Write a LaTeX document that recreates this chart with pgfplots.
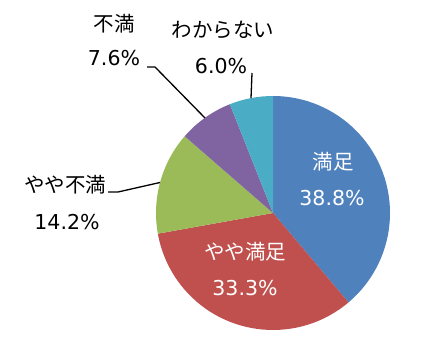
\documentclass[border=0pt]{standalone}
\usepackage{pgfplots}
\pgfplotsset{compat=1.18}
\usepackage{fontspec}
\setmainfont{Noto Sans CJK JP}
\newfontfamily\numfont{DejaVu Sans}
\definecolor{cA}{HTML}{4F81BD}
\definecolor{cB}{HTML}{C0504D}
\definecolor{cC}{HTML}{9BBB59}
\definecolor{cD}{HTML}{8064A2}
\definecolor{cE}{HTML}{4BACC6}
% data (percent)
\def\vA{38.8}\def\vB{33.3}\def\vC{14.2}\def\vD{7.6}\def\vE{6.0}
\pgfmathsetmacro\tot{\vA+\vB+\vC+\vD+\vE}
\pgfmathsetmacro\aZ{90}
\pgfmathsetmacro\aA{\aZ-360*\vA/\tot}
\pgfmathsetmacro\aB{\aA-360*\vB/\tot}
\pgfmathsetmacro\aC{\aB-360*\vC/\tot}
\pgfmathsetmacro\aD{\aC-360*\vD/\tot}
\pgfmathsetmacro\aE{\aD-360*\vE/\tot}
\def\R{117}
\begin{document}
\begin{tikzpicture}
\begin{axis}[
  width=423pt, height=350pt, scale only axis,
  xmin=0, xmax=423, ymin=0, ymax=350,
  hide axis, clip=false,
]
\path (rel axis cs:0,0) rectangle (rel axis cs:1,1);
\fill[cA] (axis cs:273,137) -- ++(\aZ:\R) arc[start angle=\aZ, end angle=\aA, radius=\R] -- cycle;
\fill[cB] (axis cs:273,137) -- ++(\aA:\R) arc[start angle=\aA, end angle=\aB, radius=\R] -- cycle;
\fill[cC] (axis cs:273,137) -- ++(\aB:\R) arc[start angle=\aB, end angle=\aC, radius=\R] -- cycle;
\fill[cD] (axis cs:273,137) -- ++(\aC:\R) arc[start angle=\aC, end angle=\aD, radius=\R] -- cycle;
\fill[cE] (axis cs:273,137) -- ++(\aD:\R) arc[start angle=\aD, end angle=\aE, radius=\R] -- cycle;
% leader lines
\draw[black, line width=1.3pt] (axis cs:108,158) -- (axis cs:118,158) -- (axis cs:160,167.5);
\draw[black, line width=1.3pt] (axis cs:147,283) -- (axis cs:155,283) -- (axis cs:205,232);
\draw[black, line width=1.3pt] (axis cs:252,277) -- (axis cs:251,252);
% labels
\tikzset{lab/.style={font=\fontsize{20.5}{20.5}\selectfont, inner sep=0pt, anchor=center},
         num/.style={font=\fontsize{20.5}{20.5}\selectfont\numfont, inner sep=0pt, anchor=center}}
\node[lab, white] at (axis cs:333,188) {満足};
\node[num, white] at (axis cs:332,152) {\vA\%};
\node[lab, white] at (axis cs:245,98) {やや満足};
\node[num, white] at (axis cs:245,62) {\vB\%};
\node[lab] at (axis cs:65,165) {やや不満};
\node[num] at (axis cs:67,128) {\vC\%};
\node[lab] at (axis cs:114,326) {不満};
\node[num] at (axis cs:114,292) {\vD\%};
\node[lab] at (axis cs:223,320) {わからない};
\node[num] at (axis cs:221,284) {\vE\%};
\end{axis}
\end{tikzpicture}
\end{document}
